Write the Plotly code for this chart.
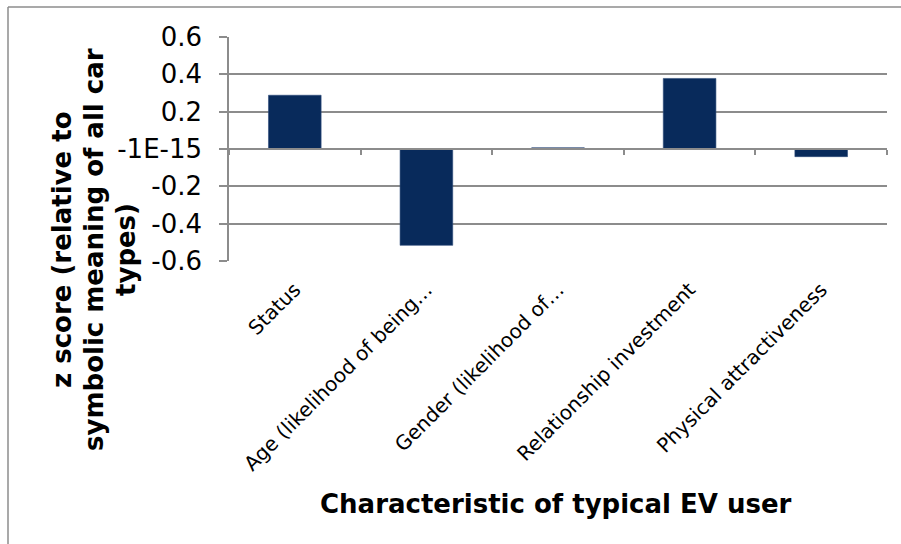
import plotly.graph_objects as go

# Characteristics of the typical EV user and their z scores
categories = [
    "Status",
    "Age (likelihood of being…",
    "Gender (likelihood of…",
    "Relationship investment",
    "Physical attractiveness",
]
z_scores = [0.288, -0.516, 0.007, 0.378, -0.041]

y_tick_values = [0.6, 0.4, 0.2, 0.0, -0.2, -0.4, -0.6]
y_tick_labels = ["0.6", "0.4", "0.2", "-1E-15", "-0.2", "-0.4", "-0.6"]

y_title_lines = ["z score (relative to", "symbolic meaning of all car", "types)"]
x_title = "Characteristic of typical EV user"

BAR = "#082a5b"
GRID = "#8c8c8c"
FONT = "DejaVu Sans"

W, H = 901, 544
L, R, T, B = 229, 14, 37, 283
PW, PH = W - L - R, H - T - B


def px_x(x):
    return (x - L) / PW


def px_y(y):
    return (H - B - y) / PH


positions = list(range(len(categories)))
boundaries = [p - 0.5 for p in positions] + [positions[-1] + 0.5]

fig = go.Figure()
fig.add_trace(go.Bar(
    x=positions,
    y=z_scores,
    marker=dict(color=BAR, line=dict(color="#2c4a78", width=0.6)),
    showlegend=False,
))
# carrier trace for the category axis drawn through zero
fig.add_trace(go.Scatter(x=[], y=[], xaxis="x2", yaxis="y",
                         mode="markers", showlegend=False, hoverinfo="skip"))

# rotated y-axis title, one annotation per line
title_x = [62, 94, 126]
annotations = [
    dict(text=line, textangle=-90, showarrow=False,
         xref="paper", yref="paper", x=px_x(cx), y=px_y(250),
         xanchor="center", yanchor="middle",
         font=dict(size=26, family=FONT, weight="bold"))
    for line, cx in zip(y_title_lines, title_x)
]
annotations.append(
    dict(text=x_title, showarrow=False,
         xref="paper", yref="paper", x=px_x(556), y=px_y(504),
         xanchor="center", yanchor="middle",
         font=dict(size=26, family=FONT, weight="bold"))
)

fig.update_layout(
    width=W, height=H,
    margin=dict(l=L, r=R, t=T, b=B),
    paper_bgcolor="white",
    plot_bgcolor="white",
    bargap=0.6,
    font=dict(family=FONT, color="black"),
    xaxis=dict(
        range=[-0.5, len(categories) - 0.5],
        tickmode="array",
        tickvals=positions,
        ticktext=categories,
        tickangle=-45,
        tickfont=dict(size=20, family=FONT),
        showgrid=False, zeroline=False, showline=False,
        ticks="",
        ticklabelstandoff=12,
    ),
    xaxis2=dict(
        overlaying="x",
        anchor="free",
        position=0.5,
        matches="x",
        tickmode="array",
        tickvals=boundaries,
        showticklabels=False,
        ticks="outside", ticklen=5, tickwidth=1.5, tickcolor=GRID,
        showline=True, linecolor=GRID, linewidth=1.5,
        showgrid=False, zeroline=False,
    ),
    yaxis=dict(
        range=[-0.6, 0.6],
        tickmode="array",
        tickvals=y_tick_values,
        ticktext=y_tick_labels,
        tickfont=dict(size=26, family=FONT),
        showgrid=True, gridcolor=GRID, gridwidth=1.5,
        zeroline=False,
        showline=True, linecolor=GRID, linewidth=1.5,
        ticks="outside", ticklen=8, tickwidth=1.5, tickcolor=GRID,
        ticklabelstandoff=12,
    ),
    annotations=annotations,
    shapes=[
        dict(type="line", xref="paper", yref="paper",
             x0=px_x(8), x1=px_x(8), y0=px_y(7), y1=px_y(H + 5),
             line=dict(color=GRID, width=1.5)),
        dict(type="line", xref="paper", yref="paper",
             x0=px_x(8), x1=px_x(W + 5), y0=px_y(7), y1=px_y(7),
             line=dict(color=GRID, width=1.5)),
    ],
)

fig.write_html("out.html")
